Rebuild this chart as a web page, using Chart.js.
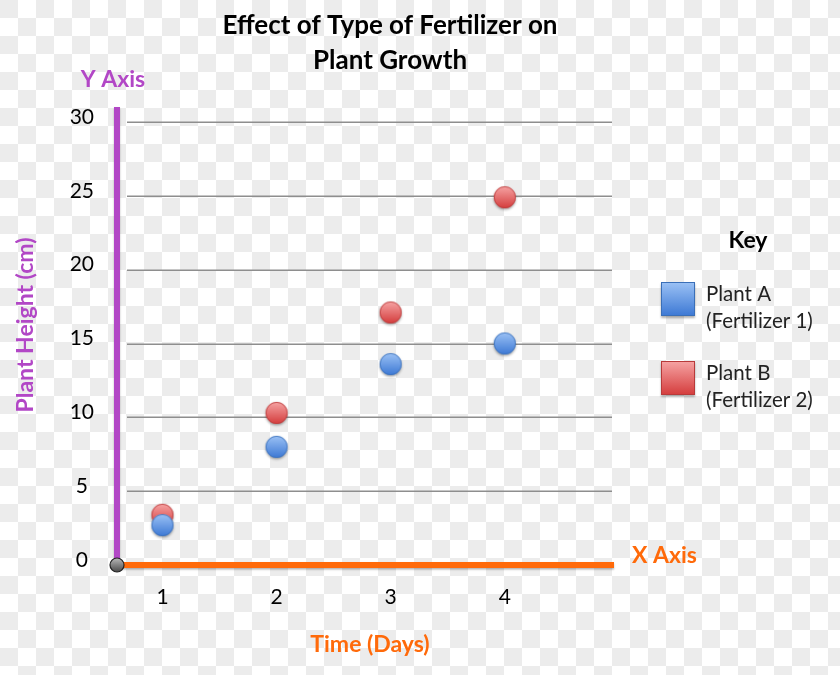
<!DOCTYPE html>
<html>
<head>
<meta charset="utf-8">
<script src="https://cdn.jsdelivr.net/npm/chart.js@4/dist/chart.umd.min.js"></script>
<style>
  html, body { margin: 0; padding: 0; }
  body {
    width: 840px; height: 675px; overflow: hidden;
    background-color: #ffffff;
    background-image:
      linear-gradient(45deg, #ececec 25%, transparent 25%, transparent 75%, #ececec 75%),
      linear-gradient(45deg, #ececec 25%, transparent 25%, transparent 75%, #ececec 75%);
    background-size: 36px 36px;
    background-position: 18px 0, 0 18px;
  }
  #wrap { position: absolute; left: 0; top: 0; width: 840px; height: 675px; }
</style>
</head>
<body>
<div id="wrap"><canvas id="c" width="840" height="675"></canvas></div>
<script>
// ---- data ----
const days = [1, 2, 3, 4];
const plantA = [2.7, 8.0, 13.6, 15.0];
const plantB = [3.4, 10.3, 17.1, 24.9];
const yTicks = [0, 5, 10, 15, 20, 25, 30];
const seriesNames = ['Plant A', 'Plant B'];
const seriesSubs = ['(Fertilizer 1)', '(Fertilizer 2)'];
const titleLines = ['Effect of Type of Fertilizer on', 'Plant Growth'];
const yAxisTitle = 'Plant Height (cm)';
const xAxisTitle = 'Time (Days)';
const yAxisName = 'Y Axis';
const xAxisName = 'X Axis';
const keyTitle = 'Key';

// ---- styles ----
const FONT = 'Lato, "Open Sans", sans-serif';
const PURPLE = '#b247c6';
const ORANGE = '#ff6a0a';
const palette = [
  { top: '#9cc2f5', bottom: '#3c78d4', border: '#3a6fb8' },
  { top: '#f6a4a4', bottom: '#d43c3c', border: '#b83a3a' }
];

function ballImage(p, r) {
  const size = Math.ceil(r * 2 + 8);
  const cv = document.createElement('canvas');
  cv.width = size; cv.height = size;
  const g = cv.getContext('2d');
  const cx = size / 2, cy = size / 2;
  g.save();
  g.shadowColor = 'rgba(0,0,0,0.35)';
  g.shadowBlur = 2.5;
  g.shadowOffsetY = 1.5;
  const grad = g.createLinearGradient(0, cy - r, 0, cy + r);
  grad.addColorStop(0, p.top);
  grad.addColorStop(1, p.bottom);
  g.fillStyle = grad;
  g.beginPath(); g.arc(cx, cy, r, 0, Math.PI * 2); g.fill();
  g.restore();
  g.strokeStyle = p.border; g.lineWidth = 0.8;
  g.beginPath(); g.arc(cx, cy, r - 0.4, 0, Math.PI * 2); g.stroke();
  return cv;
}

const series = [plantA, plantB];
const datasets = series.map((vals, i) => ({
  label: seriesNames[i] + ' ' + seriesSubs[i],
  data: days.map((d, j) => ({ x: d, y: vals[j] })),
  pointStyle: ballImage(palette[i], 11),
  pointRadius: 11,
  pointHoverRadius: 11,
  showLine: false
}));

const decor = {
  id: 'decor',
  beforeDatasetsDraw(chart) {
    const ctx = chart.ctx;
    const ys = chart.scales.y;
    const ca = chart.chartArea;
    ctx.save();
    // grid lines
    ctx.strokeStyle = '#8e8e8e';
    ctx.lineWidth = 1.5;
    yTicks.forEach(v => {
      if (v === 0) return;
      const py = Math.round(ys.getPixelForValue(v)) + 0.25;
      ctx.beginPath(); ctx.moveTo(127, py); ctx.lineTo(ca.right, py); ctx.stroke();
    });
    // axes
    ctx.shadowColor = 'rgba(0,0,0,0.3)';
    ctx.shadowBlur = 2;
    ctx.shadowOffsetY = 1.5;
    ctx.fillStyle = PURPLE;
    ctx.fillRect(ca.left - 4, 107, 6, ca.bottom - 107);
    ctx.fillStyle = ORANGE;
    ctx.fillRect(ca.left, ca.bottom - 3, 614 - ca.left, 6);
    ctx.restore();
    // origin ball
    ctx.save();
    const ox = ca.left - 1, oy = ca.bottom;
    const gg = ctx.createLinearGradient(0, oy - 7, 0, oy + 7);
    gg.addColorStop(0, '#b8b8b8');
    gg.addColorStop(1, '#4a4a4a');
    ctx.fillStyle = gg;
    ctx.beginPath(); ctx.arc(ox, oy, 7, 0, Math.PI * 2); ctx.fill();
    ctx.strokeStyle = '#222'; ctx.lineWidth = 1.2;
    ctx.stroke();
    ctx.restore();
  },
  afterDraw(chart) {
    const ctx = chart.ctx;
    ctx.save();
    ctx.textBaseline = 'middle';
    // title
    ctx.fillStyle = '#000';
    ctx.textAlign = 'center';
    ctx.font = 'bold 26px ' + FONT;
    ctx.fillText(titleLines[0], 390, 26);
    ctx.fillText(titleLines[1], 390, 61);
    // axis names
    ctx.fillStyle = PURPLE;
    ctx.font = 'bold 23px ' + FONT;
    ctx.fillText(yAxisName, 113, 80);
    ctx.save();
    ctx.translate(26, 325);
    ctx.rotate(-Math.PI / 2);
    ctx.fillText(yAxisTitle, 0, 0);
    ctx.restore();
    ctx.fillStyle = ORANGE;
    ctx.textAlign = 'left';
    ctx.fillText(xAxisName, 632, 556);
    ctx.textAlign = 'center';
    ctx.fillText(xAxisTitle, 370, 645);
    // legend
    ctx.fillStyle = '#000';
    ctx.font = 'bold 23px ' + FONT;
    ctx.fillText(keyTitle, 748, 241);
    chart.data.datasets.forEach((ds, i) => {
      const p = palette[i];
      const bx = 661, by = 282 + i * 79;
      ctx.save();
      ctx.shadowColor = 'rgba(0,0,0,0.3)';
      ctx.shadowBlur = 2;
      ctx.shadowOffsetY = 1.5;
      const g = ctx.createLinearGradient(0, by, 0, by + 34);
      g.addColorStop(0, p.top); g.addColorStop(1, p.bottom);
      ctx.fillStyle = g;
      ctx.fillRect(bx, by, 34, 34);
      ctx.restore();
      ctx.strokeStyle = p.border; ctx.lineWidth = 1;
      ctx.strokeRect(bx + 0.5, by + 0.5, 33, 33);
      ctx.fillStyle = '#222';
      ctx.font = '20.5px ' + FONT;
      ctx.textAlign = 'left';
      ctx.fillText(seriesNames[i], 706, by + 12);
      ctx.fillText(seriesSubs[i], 706, by + 39);
    });
    ctx.restore();
  }
};

new Chart(document.getElementById('c'), {
  type: 'scatter',
  data: { datasets },
  options: {
    responsive: false,
    animation: false,
    layout: { padding: { left: 0, top: 122, right: 228, bottom: 0 } },
    plugins: { legend: { display: false }, tooltip: { enabled: false }, title: { display: false } },
    scales: {
      x: {
        type: 'linear', min: 0.61, max: 4.94,
        afterFit(s) { s.height = 110; },
        afterBuildTicks(s) { s.ticks = days.map(v => ({ value: v })); },
        grid: { display: false, drawTicks: false },
        border: { display: false },
        ticks: { color: '#000', font: { family: FONT, size: 21 }, padding: 20 }
      },
      y: {
        type: 'linear', min: 0, max: 30,
        afterFit(s) { s.width = 118; },
        afterBuildTicks(s) { s.ticks = yTicks.map(v => ({ value: v })); },
        grid: { display: false, drawTicks: false },
        border: { display: false },
        ticks: { color: '#000', font: { family: FONT, size: 21 }, padding: 24, crossAlign: 'center', labelOffset: -5 }
      }
    }
  },
  plugins: [decor]
});
</script>
</body>
</html>
